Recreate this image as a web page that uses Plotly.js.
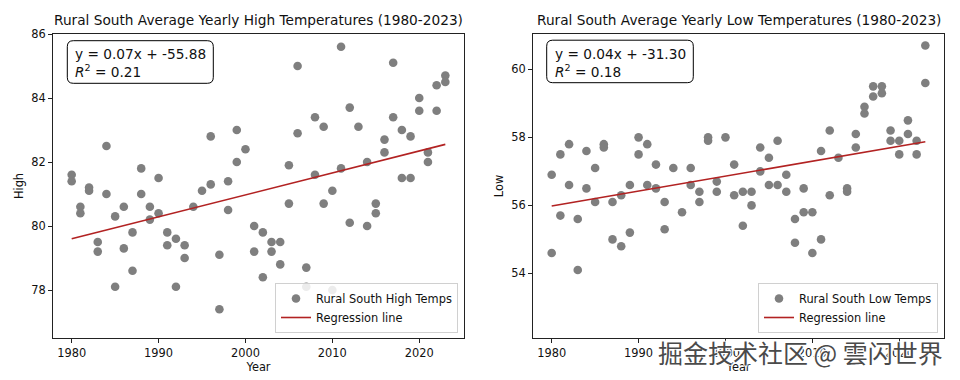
<!DOCTYPE html>
<html>
<head>
<meta charset="utf-8">
<script src="https://cdn.plot.ly/plotly-3.0.1.min.js"></script>
<style>html,body{margin:0;padding:0;background:#fff;}#chart{width:960px;height:380px;}</style>
</head>
<body>
<div id="chart"></div>
<script>
// ---- data ----
const highYears = [1980,1980,1981,1981,1982,1982,1983,1983,1984,1984,1985,1985,1986,1986,1987,1987,1988,1988,1989,1989,1990,1990,1991,1991,1992,1992,1993,1993,1994,1995,1996,1996,1997,1997,1998,1998,1999,1999,2000,2001,2001,2002,2002,2003,2003,2004,2004,2005,2005,2006,2006,2007,2007,2008,2008,2009,2009,2010,2010,2011,2011,2012,2012,2013,2014,2014,2015,2015,2016,2016,2017,2017,2018,2018,2019,2019,2020,2020,2021,2021,2022,2022,2023,2023];
const highTemps = [81.6,81.4,80.6,80.4,81.2,81.1,79.5,79.2,82.5,81.0,80.3,78.1,80.6,79.3,79.8,78.6,81.8,81.0,80.6,80.2,81.5,80.4,79.8,79.4,79.6,78.1,79.4,79.0,80.6,81.1,82.8,81.3,79.1,77.4,81.4,80.5,83.0,82.0,82.4,80.0,79.2,79.8,78.4,79.5,79.2,79.5,78.8,81.9,80.7,85.0,82.9,78.7,78.1,83.4,81.6,83.1,80.7,81.1,78.0,85.6,81.8,83.7,80.1,83.1,82.0,80.0,80.7,80.4,82.7,82.3,85.1,83.4,83.0,81.5,82.8,81.5,84.0,83.6,82.3,82.0,84.4,83.6,84.7,84.5];

const lowYears = highYears;
const lowTemps = [56.9,54.6,57.5,55.7,57.8,56.6,55.6,54.1,57.6,56.5,57.1,56.1,57.8,57.7,56.1,55.0,56.3,54.8,56.6,55.2,58.0,57.5,57.8,56.6,57.2,56.5,56.1,55.3,57.1,55.8,57.1,56.6,56.4,56.1,58.0,57.9,56.7,56.4,58.0,57.2,56.3,56.4,55.4,56.4,56.0,57.7,57.0,57.4,56.6,57.9,56.6,56.9,56.4,55.6,54.9,56.5,55.8,55.8,54.6,57.6,55.0,58.2,56.3,57.4,56.5,56.4,58.1,57.7,58.9,58.7,59.5,59.2,59.5,59.3,58.2,57.9,57.9,57.5,58.5,58.1,57.9,57.5,60.7,59.6];

const regYears = [1980, 2023];
const regHigh = [79.6, 82.55];
const regLow = [55.98, 57.87];

const xTicks = [1980, 1990, 2000, 2010, 2020];
const highTicks = [78, 80, 82, 84, 86];
const lowTicks = [54, 56, 58, 60];

const titles = ["Rural South Average Yearly High Temperatures (1980-2023)", "Rural South Average Yearly Low Temperatures (1980-2023)"];
const eqText = ["y = 0.07x + -55.88<br><i>R</i><sup>2</sup> = 0.21", "y = 0.04x + -31.30<br><i>R</i><sup>2</sup> = 0.18"];
const legendNames = ["Rural South High Temps", "Rural South Low Temps", "Regression line"];

// ---- layout geometry ----
const W = 960, H = 380;
const M = {l: 53, r: 16, t: 34, b: 42};
const PW = W - M.l - M.r, PH = H - M.t - M.b;
const px = v => (v - M.l) / PW;
const py = v => (H - M.b - v) / PH;
const FONT = "DejaVu Sans, sans-serif";
const GRAY = "#7f7f7f";
const RED = "#b22222";

function roundRect(x0, y0, x1, y1, r) {
  const X0 = px(x0), X1 = px(x1), Y0 = py(y0), Y1 = py(y1);
  const rx = r / PW, ry = r / PH;
  return `M ${X0+rx},${Y0} L ${X1-rx},${Y0} Q ${X1},${Y0} ${X1},${Y0-ry} L ${X1},${Y1+ry} Q ${X1},${Y1} ${X1-rx},${Y1} L ${X0+rx},${Y1} Q ${X0},${Y1} ${X0},${Y1+ry} L ${X0},${Y0-ry} Q ${X0},${Y0} ${X0+rx},${Y0} Z`;
}

const traces = [
  {x: highYears, y: highTemps, type: "scatter", mode: "markers", name: legendNames[0],
   marker: {color: GRAY, size: 8.6}, xaxis: "x", yaxis: "y", legend: "legend"},
  {x: regYears, y: regHigh, type: "scatter", mode: "lines", name: legendNames[2],
   line: {color: RED, width: 1.6}, xaxis: "x", yaxis: "y", legend: "legend"},
  {x: lowYears, y: lowTemps, type: "scatter", mode: "markers", name: legendNames[1],
   marker: {color: GRAY, size: 8.6}, xaxis: "x2", yaxis: "y2", legend: "legend2"},
  {x: regYears, y: regLow, type: "scatter", mode: "lines", name: legendNames[2],
   line: {color: RED, width: 1.6}, xaxis: "x2", yaxis: "y2", legend: "legend2"}
];

const axisBase = {
  showline: true, mirror: true, linecolor: "#222", linewidth: 1,
  ticks: "outside", ticklen: 4, tickwidth: 1, tickcolor: "#222",
  showgrid: false, zeroline: false,
  tickfont: {family: FONT, size: 11.4, color: "#111"}
};

const layout = {
  width: W, height: H,
  margin: M,
  paper_bgcolor: "#fff", plot_bgcolor: "#fff",
  font: {family: FONT, color: "#111"},
  xaxis: Object.assign({}, axisBase, {domain: [0, 411/PW], range: [1977.85, 2025.15], tickvals: xTicks,
    title: {text: "Year", font: {family: FONT, size: 11.4}, standoff: 2}}),
  yaxis: Object.assign({}, axisBase, {range: [76.5, 86.0], tickvals: highTicks,
    title: {text: "High", font: {family: FONT, size: 11.4}, standoff: 5}}),
  xaxis2: Object.assign({}, axisBase, {domain: [480/PW, 1], anchor: "y2", range: [1977.85, 2025.15], tickvals: xTicks,
    title: {text: "Year", font: {family: FONT, size: 11.4}, standoff: 2}}),
  yaxis2: Object.assign({}, axisBase, {anchor: "x2", range: [52.10, 61.04], tickvals: lowTicks,
    title: {text: "Low", font: {family: FONT, size: 11.4}, standoff: 5}}),
  legend: {x: px(458), y: py(333), xanchor: "right", yanchor: "bottom",
    bgcolor: "rgba(255,255,255,0.85)", bordercolor: "#d0d0d0", borderwidth: 1,
    font: {family: FONT, size: 11.4, color: "#111"}, tracegroupgap: 0},
  legend2: {x: px(938), y: py(333), xanchor: "right", yanchor: "bottom",
    bgcolor: "rgba(255,255,255,0.85)", bordercolor: "#d0d0d0", borderwidth: 1,
    font: {family: FONT, size: 11.4, color: "#111"}, tracegroupgap: 0},
  shapes: [
    {type: "path", xref: "paper", yref: "paper", path: roundRect(67.3, 40.7, 213.3, 83.3, 6), line: {color: "#000", width: 1}, fillcolor: "#fff", layer: "above"},
    {type: "path", xref: "paper", yref: "paper", path: roundRect(546.7, 40.2, 693.3, 82.7, 6), line: {color: "#000", width: 1}, fillcolor: "#fff", layer: "above"}
  ],
  annotations: [
    {text: titles[0], xref: "x domain", yref: "paper", x: 0.5, y: 1, xanchor: "center", yanchor: "bottom", yshift: 4, showarrow: false,
     font: {family: FONT, size: 13.7, color: "#111"}},
    {text: titles[1], xref: "x2 domain", yref: "paper", x: 0.5, y: 1, xanchor: "center", yanchor: "bottom", yshift: 4, showarrow: false,
     font: {family: FONT, size: 13.7, color: "#111"}},
    {text: eqText[0], xref: "paper", yref: "paper", x: px(73), y: py(44), xanchor: "left", yanchor: "top", align: "left", showarrow: false,
     font: {family: FONT, size: 13.7, color: "#111"}},
    {text: eqText[1], xref: "paper", yref: "paper", x: px(552.5), y: py(43.5), xanchor: "left", yanchor: "top", align: "left", showarrow: false,
     font: {family: FONT, size: 13.7, color: "#111"}},
    {text: "掘金技术社区 @ 雲闪世界", xref: "paper", yref: "paper", x: px(945), y: py(352), xanchor: "right", yanchor: "middle", showarrow: false,
     font: {family: "Noto Sans CJK SC, sans-serif", size: 25, color: "#4a4a4a", shadow: "1px 1px 1px #fff, -1px -1px 1px #fff, 1px -1px 1px #fff, -1px 1px 1px #fff"}}
  ]
};

Plotly.newPlot("chart", traces, layout, {displayModeBar: false, staticPlot: true});
</script>
</body>
</html>
